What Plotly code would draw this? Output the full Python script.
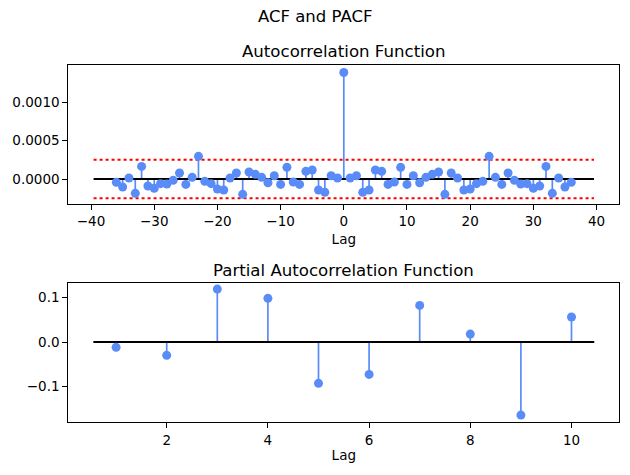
import plotly.graph_objects as go

# ACF values for lags 0..36 (the ACF is symmetric, negative lags mirror these)
acf_pos_lags = list(range(0, 37))
acf_pos_vals = [0.00139, 0.000013, 0.000043, -0.000174, -0.000144, 0.000117, 0.000100,
                -0.000070, -0.000039, 0.000152, -0.000070, 0.000043, -0.000048,
                0.000022, 0.000061, 0.000091, -0.000200, 0.000078, 0.000013,
                -0.000144, -0.000130, -0.000061, -0.000030, 0.000296, 0.000022,
                -0.000070, 0.000078, -0.000017, -0.000065, -0.000061, -0.000122,
                -0.000091, 0.000165, -0.000187, 0.000013, -0.000104, -0.000043]
acf_lags = [-l for l in acf_pos_lags[:0:-1]] + acf_pos_lags
acf_vals = acf_pos_vals[:0:-1] + acf_pos_vals
acf_conf = 0.00025
acf_line_span = [-39.6, 39.6]

pacf_lags = [1, 2, 3, 4, 5, 6, 7, 8, 9, 10]
pacf_vals = [-0.012, -0.030, 0.1195, 0.0985, -0.0932, -0.073, 0.0827, 0.018, -0.1647, 0.0564]
pacf_line_span = [0.55, 10.45]

BLUE = "#5a8cf8"
FONT = "DejaVu Sans"

fig = go.Figure()


def stems(xs, ys):
    sx, sy = [], []
    for x, y in zip(xs, ys):
        sx += [x, x, None]
        sy += [0, y, None]
    return sx, sy


# ACF
sx, sy = stems(acf_lags, acf_vals)
fig.add_trace(go.Scatter(x=sx, y=sy, mode="lines", line=dict(color=BLUE, width=1.7),
                         xaxis="x", yaxis="y", showlegend=False, hoverinfo="skip"))
fig.add_trace(go.Scatter(x=acf_line_span, y=[0, 0], mode="lines", line=dict(color="black", width=2),
                         xaxis="x", yaxis="y", showlegend=False))
for s in (1, -1):
    fig.add_trace(go.Scatter(x=acf_line_span, y=[s * acf_conf] * 2, mode="lines",
                             line=dict(color="red", width=2, dash="dot"),
                             xaxis="x", yaxis="y", showlegend=False))
fig.add_trace(go.Scatter(x=acf_lags, y=acf_vals, mode="markers",
                         marker=dict(color=BLUE, size=9), xaxis="x", yaxis="y", showlegend=False))

# PACF
sx, sy = stems(pacf_lags, pacf_vals)
fig.add_trace(go.Scatter(x=sx, y=sy, mode="lines", line=dict(color=BLUE, width=1.7),
                         xaxis="x2", yaxis="y2", showlegend=False, hoverinfo="skip"))
fig.add_trace(go.Scatter(x=pacf_line_span, y=[0, 0], mode="lines", line=dict(color="black", width=2),
                         xaxis="x2", yaxis="y2", showlegend=False))
fig.add_trace(go.Scatter(x=pacf_lags, y=pacf_vals, mode="markers",
                         marker=dict(color=BLUE, size=9), xaxis="x2", yaxis="y2", showlegend=False))

axis_common = dict(showline=True, linecolor="black", linewidth=1, mirror=True,
                   ticks="outside", ticklen=5, tickcolor="black", showgrid=False,
                   zeroline=False, tickfont=dict(family=FONT, size=13.5, color="black"))

xd = [68.3 / 630, 619.3 / 630]
fig.update_layout(
    width=630, height=475,
    margin=dict(l=0, r=0, t=0, b=0),
    paper_bgcolor="white", plot_bgcolor="white",
    font=dict(family=FONT, color="black"),
    xaxis=dict(domain=xd, range=[-43.6, 43.6], tickvals=[-40, -30, -20, -10, 0, 10, 20, 30, 40],
               anchor="y", title=dict(text="Lag", font=dict(family=FONT, size=13.5), standoff=6),
               **axis_common),
    yaxis=dict(domain=[1 - 204 / 475, 1 - 65 / 475], range=[-0.000326, 0.001488],
               tickvals=[0, 0.0005, 0.0010], ticktext=["0.0000", "0.0005", "0.0010"],
               anchor="x", **axis_common),
    xaxis2=dict(domain=xd, range=[0.055, 10.945], tickvals=[2, 4, 6, 8, 10], anchor="y2",
                title=dict(text="Lag", font=dict(family=FONT, size=13.5), standoff=4),
                **axis_common),
    yaxis2=dict(domain=[1 - 422.3 / 475, 1 - 283.3 / 475], range=[-0.181, 0.1325],
                tickvals=[-0.1, 0, 0.1], ticktext=["\u22120.1", "0.0", "0.1"],
                anchor="x2", **axis_common),
    annotations=[
        dict(text="ACF and PACF", x=0.5, y=1 - 17 / 475, xref="paper", yref="paper",
             showarrow=False, font=dict(family=FONT, size=16.5), yanchor="middle"),
        dict(text="Autocorrelation Function", x=(xd[0] + xd[1]) / 2, y=1 - 52 / 475,
             xref="paper", yref="paper", showarrow=False, font=dict(family=FONT, size=16.6),
             yanchor="middle"),
        dict(text="Partial Autocorrelation Function", x=(xd[0] + xd[1]) / 2, y=1 - 270 / 475,
             xref="paper", yref="paper", showarrow=False, font=dict(family=FONT, size=16.6),
             yanchor="middle"),
    ],
)

fig.write_html("out.html")
